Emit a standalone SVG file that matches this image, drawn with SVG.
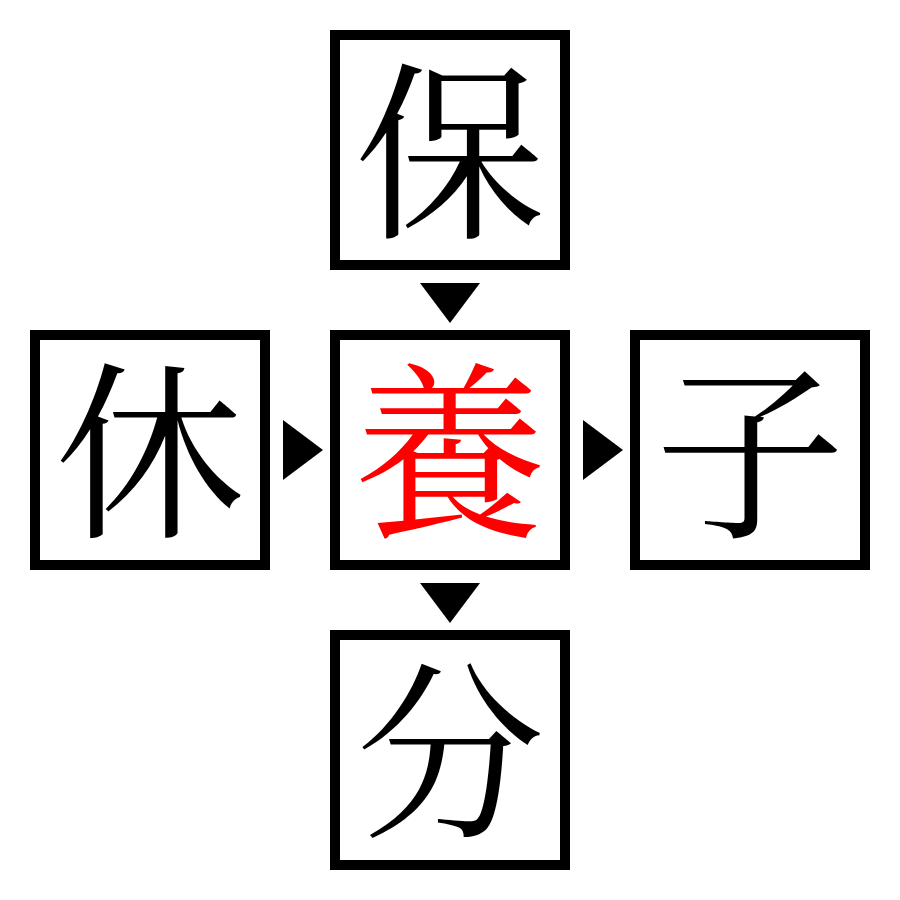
<svg xmlns="http://www.w3.org/2000/svg" width="900" height="900" viewBox="0 0 900 900">
<style>
.box{fill:#fff;stroke:#000;stroke-width:10}
.ch{font-family:"Noto Serif CJK JP","Noto Serif CJK SC","Noto Sans CJK JP",serif;font-size:190px;text-anchor:middle;fill:#000}
.red{fill:#ff0000}
.arr{fill:#000}
</style>
<rect width="900" height="900" fill="#fff"/>
<g id="connectors">
<polygon class="arr" points="420,283 480,283 450,323"/>
<polygon class="arr" points="283,420 323,450 283,480"/>
<polygon class="arr" points="583,420 623,450 583,480"/>
<polygon class="arr" points="420,583 480,583 450,623"/>
</g>
<g id="node-top"><rect class="box" x="335" y="35" width="230" height="230"/><text class="ch" x="450" y="223">保</text></g>
<g id="node-left"><rect class="box" x="35" y="335" width="230" height="230"/><text class="ch" x="150" y="523">休</text></g>
<g id="node-center"><rect class="box" x="335" y="335" width="230" height="230"/><text class="ch red" x="450" y="523">養</text></g>
<g id="node-right"><rect class="box" x="635" y="335" width="230" height="230"/><text class="ch" x="750" y="523">子</text></g>
<g id="node-bottom"><rect class="box" x="335" y="635" width="230" height="230"/><text class="ch" x="450" y="823">分</text></g>
</svg>
